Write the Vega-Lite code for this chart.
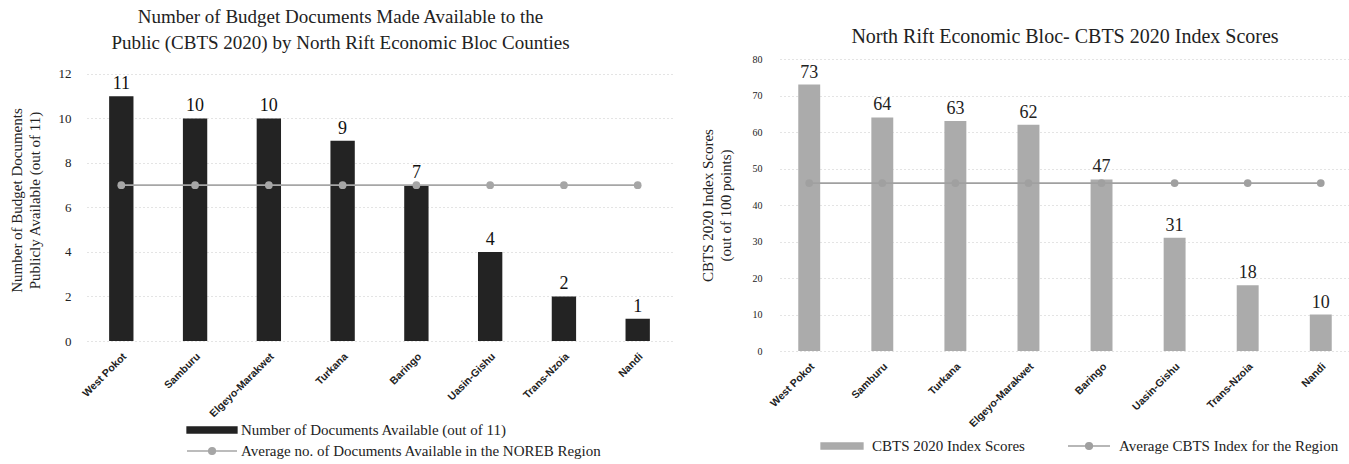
{
  "$schema": "https://vega.github.io/schema/vega-lite/v6.json",
  "padding": {"left": 9, "top": 8, "right": 0, "bottom": 0},
  "background": "white",
  "spacing": 28,
  "resolve": {"scale": {"color": "independent"}, "legend": {"color": "independent"}},
  "config": {
    "view": {"stroke": null},
    "font": "Liberation Serif",
    "axis": {"domain": false, "ticks": false, "tickSize": 0, "gridColor": "#c8c8c8", "gridDash": [1, 3], "gridWidth": 1, "labelColor": "#222", "titleColor": "#222", "titleFontWeight": "normal", "titleFont": "Liberation Serif", "labelFont": "Liberation Serif"},
    "legend": {"labelFont": "Liberation Serif", "labelFontSize": 15, "labelColor": "#222", "labelLimit": 500, "title": null}
  },
  "hconcat": [
    {
      "width": 585,
      "height": 282,
      "title": {"text": ["Number of Budget Documents Made Available to the", "Public (CBTS 2020) by North Rift Economic Bloc Counties"], "fontSize": 19, "font": "Liberation Serif", "fontWeight": "normal", "lineHeight": 26, "offset": 6, "anchor": "middle", "frame": "bounds", "color": "#222"},
      "data": {"values": [
        {"county": "West Pokot", "docs": 11, "avg": 7},
        {"county": "Samburu", "docs": 10, "avg": 7},
        {"county": "Elgeyo-Marakwet", "docs": 10, "avg": 7},
        {"county": "Turkana", "docs": 9, "avg": 7},
        {"county": "Baringo", "docs": 7, "avg": 7},
        {"county": "Uasin-Gishu", "docs": 4, "avg": 7},
        {"county": "Trans-Nzoia", "docs": 2, "avg": 7},
        {"county": "Nandi", "docs": 1, "avg": 7}
      ]},
      "encoding": {
        "x": {"field": "county", "type": "nominal", "sort": null, "title": null,
          "scale": {"paddingInner": 0.67, "paddingOuter": 0.3},
          "axis": {"labelAngle": 315, "labelFont": "Liberation Sans", "labelFontWeight": "bold", "labelFontSize": 10.5, "labelPadding": 10, "grid": false}}
      },
      "layer": [
        {
          "mark": {"type": "bar"},
          "encoding": {
            "y": {"field": "docs", "type": "quantitative", "title": ["Number of Budget Documents", "Publicly Available (out of 11)"],
              "scale": {"domain": [0, 12.67], "nice": false},
              "axis": {"values": [0, 2, 4, 6, 8, 10, 12], "labelOverlap": false, "labelFontSize": 13, "labelPadding": 16, "titleFontSize": 15, "titlePadding": 16, "titleLineHeight": 18}},
            "color": {"datum": "Number of Documents Available (out of 11)", "type": "nominal",
              "scale": {"domain": ["Number of Documents Available (out of 11)", "Average no. of Documents Available in the NOREB Region"], "range": ["#232323", "#a6a6a6"]},
              "legend": {"orient": "none", "legendX": 99, "legendY": 362, "direction": "vertical", "symbolSize": 256, "labelOffset": 37, "rowPadding": 4,
                "encode": {"symbols": {"update": {
                  "shape": {"signal": "datum.label === 'Number of Documents Available (out of 11)' ? 'M-1,-0.375H5.25V0.375H-1Z' : 'M-1,0H5.25M1.7,0A0.43,0.43 0 1,0 2.56,0A0.43,0.43 0 1,0 1.7,0Z'"},
                  "fill": {"signal": "datum.label === 'Number of Documents Available (out of 11)' ? '#232323' : '#a6a6a6'"},
                  "stroke": {"signal": "datum.label === 'Number of Documents Available (out of 11)' ? null : '#a6a6a6'"},
                  "strokeWidth": {"value": 1.3},
                  "opacity": {"value": 1}
                }}}}}
          }
        },
        {
          "mark": {"type": "text", "baseline": "bottom", "dy": -3, "fontSize": 18, "font": "Liberation Serif", "color": "#111"},
          "encoding": {
            "y": {"field": "docs", "type": "quantitative", "title": ["Number of Budget Documents", "Publicly Available (out of 11)"],
              "scale": {"domain": [0, 12.67], "nice": false},
              "axis": {"values": [0, 2, 4, 6, 8, 10, 12], "labelOverlap": false, "labelFontSize": 13, "labelPadding": 16, "titleFontSize": 15, "titlePadding": 16, "titleLineHeight": 18}},
            "text": {"field": "docs", "type": "quantitative"}}
        },
        {
          "mark": {"type": "line", "strokeWidth": 1.8, "point": {"filled": true, "size": 60}},
          "encoding": {
            "y": {"field": "avg", "type": "quantitative", "title": ["Number of Budget Documents", "Publicly Available (out of 11)"],
              "scale": {"domain": [0, 12.67], "nice": false},
              "axis": {"values": [0, 2, 4, 6, 8, 10, 12], "labelOverlap": false, "labelFontSize": 13, "labelPadding": 16, "titleFontSize": 15, "titlePadding": 16, "titleLineHeight": 18}},
            "color": {"datum": "Average no. of Documents Available in the NOREB Region", "type": "nominal"}
          }
        }
      ]
    },
    {
      "width": 570,
      "height": 292,
      "title": {"text": "North Rift Economic Bloc- CBTS 2020 Index Scores", "fontSize": 20, "font": "Liberation Serif", "fontWeight": "normal", "offset": 7, "anchor": "middle", "color": "#222"},
      "data": {"values": [
        {"county": "West Pokot", "score": 73, "avg": 46},
        {"county": "Samburu", "score": 64, "avg": 46},
        {"county": "Turkana", "score": 63, "avg": 46},
        {"county": "Elgeyo-Marakwet", "score": 62, "avg": 46},
        {"county": "Baringo", "score": 47, "avg": 46},
        {"county": "Uasin-Gishu", "score": 31, "avg": 46},
        {"county": "Trans-Nzoia", "score": 18, "avg": 46},
        {"county": "Nandi", "score": 10, "avg": 46}
      ]},
      "encoding": {
        "x": {"field": "county", "type": "nominal", "sort": null, "title": null,
          "scale": {"paddingInner": 0.7, "paddingOuter": 0.25},
          "axis": {"labelAngle": 315, "labelFont": "Liberation Sans", "labelFontWeight": "bold", "labelFontSize": 10.5, "labelPadding": 10, "grid": false}}
      },
      "layer": [
        {
          "mark": {"type": "bar"},
          "encoding": {
            "y": {"field": "score", "type": "quantitative", "title": ["CBTS 2020 Index Scores", "(out of 100 points)"],
              "scale": {"domain": [0, 80], "nice": false},
              "axis": {"values": [0, 10, 20, 30, 40, 50, 60, 70, 80], "labelOverlap": false, "labelFontSize": 10, "labelPadding": 18, "titleFontSize": 15, "titlePadding": 19, "titleLineHeight": 18}},
            "color": {"datum": "CBTS 2020 Index Scores", "type": "nominal",
              "scale": {"domain": ["CBTS 2020 Index Scores", "Average CBTS Index for the Region"], "range": ["#ababab", "#a0a0a0"]},
              "legend": {"orient": "none", "legendX": 40, "legendY": 378, "direction": "horizontal", "symbolSize": 256, "labelOffset": 34, "columnPadding": 40,
                "encode": {"symbols": {"update": {
                  "shape": {"signal": "datum.label === 'CBTS 2020 Index Scores' ? 'M-1,-0.375H4.25V0.375H-1Z' : 'M-1,0H4.25M1.2,0A0.43,0.43 0 1,0 2.06,0A0.43,0.43 0 1,0 1.2,0Z'"},
                  "fill": {"signal": "datum.label === 'CBTS 2020 Index Scores' ? '#ababab' : '#a6a6a6'"},
                  "stroke": {"signal": "datum.label === 'CBTS 2020 Index Scores' ? null : '#a6a6a6'"},
                  "strokeWidth": {"value": 1.3},
                  "opacity": {"value": 1}
                }}}}}
          }
        },
        {
          "mark": {"type": "text", "baseline": "bottom", "dy": -3, "fontSize": 18, "font": "Liberation Serif", "color": "#222"},
          "encoding": {
            "y": {"field": "score", "type": "quantitative", "title": ["CBTS 2020 Index Scores", "(out of 100 points)"],
              "scale": {"domain": [0, 80], "nice": false},
              "axis": {"values": [0, 10, 20, 30, 40, 50, 60, 70, 80], "labelOverlap": false, "labelFontSize": 10, "labelPadding": 18, "titleFontSize": 15, "titlePadding": 19, "titleLineHeight": 18}},
            "text": {"field": "score", "type": "quantitative"}}
        },
        {
          "mark": {"type": "line", "strokeWidth": 1.8, "point": {"filled": true, "size": 60}},
          "encoding": {
            "y": {"field": "avg", "type": "quantitative", "title": ["CBTS 2020 Index Scores", "(out of 100 points)"],
              "scale": {"domain": [0, 80], "nice": false},
              "axis": {"values": [0, 10, 20, 30, 40, 50, 60, 70, 80], "labelOverlap": false, "labelFontSize": 10, "labelPadding": 18, "titleFontSize": 15, "titlePadding": 19, "titleLineHeight": 18}},
            "color": {"datum": "Average CBTS Index for the Region", "type": "nominal"}
          }
        }
      ]
    }
  ]
}
